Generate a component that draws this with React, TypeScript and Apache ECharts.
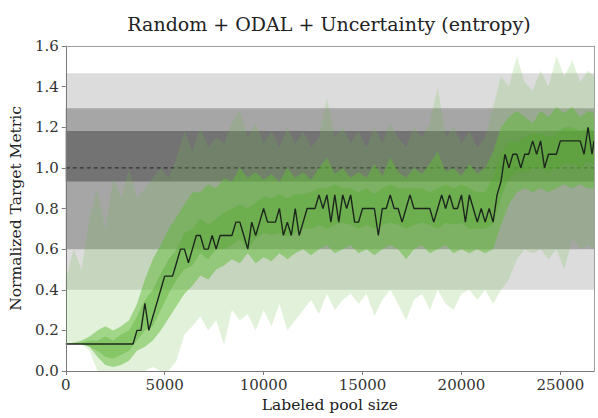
import React, { useEffect, useRef } from "react";
import * as echarts from "echarts";

const chartTitle = "Random + ODAL + Uncertainty (entropy)";
const xAxisName = "Labeled pool size";
const yAxisName = "Normalized Target Metric";

const xMin = 0;
const xMax = 26700;
const xInterval = 5000;
const yMin = 0;
const yMax = 1.6;
const yInterval = 0.2;

// reference (grey) bands: lower / upper
const refBandLow = [0.4, 0.6, 0.933];
const refBandHigh = [1.466, 1.293, 1.181];
const refBandColors = ["#dcdcdc", "#a6a6a6", "#737373"];
const refLineValue = 1.0;

// median curve
const poolSizes = [
  0, 200, 400, 600, 800, 1000, 1200, 1400, 1600, 1800,
  2000, 2200, 2400, 2600, 2800, 3000, 3200, 3400, 3600, 3800,
  4000, 4200, 4400, 4600, 4800, 5000, 5200, 5400, 5600, 5800,
  6000, 6200, 6400, 6600, 6800, 7000, 7200, 7400, 7600, 7800,
  8000, 8200, 8400, 8600, 8800, 9000, 9200, 9400, 9600, 9800,
  10000, 10200, 10400, 10600, 10800, 11000, 11200, 11400, 11600, 11800,
  12000, 12200, 12400, 12600, 12800, 13000, 13200, 13400, 13600, 13800,
  14000, 14200, 14400, 14600, 14800, 15000, 15200, 15400, 15600, 15800,
  16000, 16200, 16400, 16600, 16800, 17000, 17200, 17400, 17600, 17800,
  18000, 18200, 18400, 18600, 18800, 19000, 19200, 19400, 19600, 19800,
  20000, 20200, 20400, 20600, 20800, 21000, 21200, 21400, 21600, 21800,
  22000, 22200, 22400, 22600, 22800, 23000, 23200, 23400, 23600, 23800,
  24000, 24200, 24400, 24600, 24800, 25000, 25200, 25400, 25600, 25800,
  26000, 26200, 26400, 26600, 26700,
];
const medianValues = [
  0.133, 0.133, 0.133, 0.133, 0.133, 0.133, 0.133, 0.133, 0.133, 0.133,
  0.133, 0.133, 0.133, 0.133, 0.133, 0.133, 0.133, 0.133, 0.2, 0.2,
  0.333, 0.2, 0.267, 0.333, 0.4, 0.467, 0.467, 0.467, 0.533, 0.6,
  0.6, 0.533, 0.6, 0.667, 0.667, 0.6, 0.6, 0.667, 0.6, 0.667,
  0.667, 0.667, 0.667, 0.733, 0.733, 0.667, 0.6, 0.733, 0.667, 0.733,
  0.8, 0.733, 0.733, 0.733, 0.8, 0.667, 0.733, 0.667, 0.8, 0.667,
  0.733, 0.8, 0.8, 0.8, 0.867, 0.8, 0.867, 0.733, 0.867, 0.733,
  0.867, 0.8, 0.867, 0.733, 0.733, 0.8, 0.8, 0.8, 0.8, 0.667,
  0.8, 0.8, 0.867, 0.8, 0.8, 0.733, 0.8, 0.867, 0.8, 0.8,
  0.8, 0.8, 0.8, 0.733, 0.8, 0.867, 0.8, 0.867, 0.8, 0.8,
  0.867, 0.733, 0.867, 0.8, 0.733, 0.8, 0.733, 0.8, 0.733, 0.867,
  0.933, 1.067, 1.0, 1.067, 1.067, 1.0, 1.067, 1.067, 1.133, 1.067,
  1.133, 1.0, 1.067, 1.067, 1.067, 1.133, 1.133, 1.133, 1.133, 1.133,
  1.133, 1.067, 1.2, 1.067, 1.133,
];

// spread bands
const bandPoolSizes = [
  0, 400, 800, 1200, 1600, 2000, 2400, 2800, 3200, 3600,
  4000, 4400, 4800, 5200, 5600, 6000, 6400, 6800, 7200, 7600,
  8000, 8400, 8800, 9200, 9600, 10000, 10400, 10800, 11200, 11600,
  12000, 12400, 12800, 13200, 13600, 14000, 14400, 14800, 15200, 15600,
  16000, 16400, 16800, 17200, 17600, 18000, 18400, 18800, 19200, 19600,
  20000, 20400, 20800, 21200, 21600, 22000, 22400, 22800, 23200, 23600,
  24000, 24400, 24800, 25200, 25600, 26000, 26400, 26700,
];
const outerMax = [
  0.45, 0.6, 0.5, 0.75, 0.9, 0.7, 0.95, 0.85, 1.0, 0.85,
  0.9, 0.95, 1.0, 0.95, 1.05, 1.18, 1.08, 1.2, 1.1, 1.15,
  1.12, 1.22, 1.28, 1.15, 1.22, 1.12, 1.18, 1.1, 1.2, 1.12,
  1.18, 1.1, 1.15, 1.34, 1.15, 1.2, 1.12, 1.18, 1.1, 1.2,
  1.12, 1.22, 1.15, 1.1, 1.2, 1.15, 1.22, 1.4, 1.15, 1.2,
  1.12, 1.18, 1.1, 1.15, 1.3, 1.45, 1.4, 1.55, 1.42, 1.38,
  1.48, 1.4, 1.55, 1.45, 1.53, 1.42, 1.48, 1.45,
];
const outerMin = [
  0.133, 0.133, 0.133, 0.1, 0.0, 0.0, 0.0, 0.0, 0.0, 0.0,
  0.0, 0.02, 0.0, 0.0, 0.05, 0.18, 0.22, 0.27, 0.2, 0.25,
  0.13, 0.3, 0.25, 0.28, 0.2, 0.3, 0.22, 0.33, 0.2, 0.25,
  0.3, 0.35, 0.28, 0.38, 0.3, 0.35, 0.38, 0.33, 0.38, 0.27,
  0.35, 0.4, 0.33, 0.25, 0.35, 0.38, 0.3, 0.4, 0.33, 0.3,
  0.38, 0.4, 0.35, 0.4, 0.33, 0.4, 0.45, 0.55, 0.6, 0.58,
  0.6, 0.55, 0.6, 0.5, 0.65, 0.6, 0.62, 0.6,
];
const midLow = [
  0.133, 0.133, 0.133, 0.12, 0.07, 0.03, 0.02, 0.03, 0.05, 0.1,
  0.12, 0.15, 0.2, 0.26, 0.32, 0.38, 0.42, 0.47, 0.45, 0.5,
  0.52, 0.55, 0.53, 0.58, 0.53, 0.56, 0.54, 0.58, 0.55, 0.58,
  0.6, 0.57, 0.6, 0.62, 0.58, 0.6, 0.62, 0.58, 0.6, 0.57,
  0.6, 0.62, 0.6, 0.55, 0.6, 0.62, 0.58, 0.6, 0.62, 0.58,
  0.6, 0.58, 0.6, 0.58, 0.6, 0.72, 0.82, 0.88, 0.9, 0.88,
  0.9, 0.88, 0.9, 0.92, 0.9, 0.92, 0.9, 0.9,
];
const midHigh = [
  0.133, 0.14, 0.15, 0.17, 0.2, 0.22, 0.2, 0.22, 0.25, 0.33,
  0.45, 0.55, 0.62, 0.7, 0.76, 0.82, 0.88, 0.88, 0.92, 0.9,
  0.95, 0.93, 1.0, 0.95, 0.98, 0.94, 0.97, 0.93, 1.0, 0.95,
  0.98, 0.94, 1.0, 1.05, 0.97, 1.0, 0.95, 0.98, 0.95, 1.02,
  0.96, 1.05, 0.98, 0.95, 1.0, 0.97, 1.02, 1.08, 0.98, 1.0,
  0.96, 1.02, 0.97, 1.0, 1.08, 1.2, 1.25, 1.28, 1.25, 1.22,
  1.28, 1.25, 1.3, 1.27, 1.3, 1.25, 1.28, 1.27,
];
const innerLow = [
  0.133, 0.133, 0.133, 0.12, 0.1, 0.07, 0.06, 0.08, 0.1, 0.15,
  0.2, 0.22, 0.3, 0.38, 0.45, 0.5, 0.52, 0.58, 0.55, 0.6,
  0.6, 0.62, 0.65, 0.6, 0.65, 0.68, 0.67, 0.68, 0.66, 0.68,
  0.7, 0.7, 0.72, 0.7, 0.72, 0.73, 0.72, 0.7, 0.72, 0.7,
  0.72, 0.73, 0.72, 0.7, 0.72, 0.73, 0.72, 0.7, 0.73, 0.72,
  0.73, 0.7, 0.7, 0.7, 0.72, 0.85, 0.95, 0.98, 0.98, 1.0,
  1.0, 0.98, 1.0, 1.02, 1.02, 1.0, 1.03, 1.02,
];
const innerHigh = [
  0.133, 0.133, 0.14, 0.15, 0.15, 0.17, 0.15, 0.18, 0.2, 0.27,
  0.35, 0.4, 0.48, 0.55, 0.6, 0.68, 0.7, 0.75, 0.72, 0.75,
  0.78, 0.8, 0.82, 0.8, 0.83, 0.86, 0.85, 0.87, 0.85, 0.87,
  0.87, 0.88, 0.9, 0.9, 0.92, 0.9, 0.9, 0.88, 0.9, 0.87,
  0.9, 0.92, 0.9, 0.9, 0.9, 0.9, 0.88, 0.9, 0.92, 0.9,
  0.92, 0.9, 0.88, 0.88, 0.95, 1.07, 1.13, 1.13, 1.15, 1.17,
  1.17, 1.15, 1.17, 1.2, 1.2, 1.18, 1.2, 1.18,
];

const FONT = "DejaVu Serif";

function bandSeries(upper: number[], lower: number[], color: string, z: number) {
  return {
    type: "custom",
    z,
    silent: true,
    data: [[bandPoolSizes[0], lower[0]]],
    renderItem: (params: any, api: any) => {
      const pts: number[][] = [];
      for (let i = 0; i < bandPoolSizes.length; i++) pts.push(api.coord([bandPoolSizes[i], upper[i]]));
      for (let i = bandPoolSizes.length - 1; i >= 0; i--) pts.push(api.coord([bandPoolSizes[i], lower[i]]));
      return { type: "polygon", shape: { points: pts }, style: { fill: color } };
    },
  };
}

export default function App() {
  const ref = useRef<HTMLDivElement>(null);
  useEffect(() => {
    if (!ref.current) return;
    const chart = echarts.init(ref.current, undefined, { renderer: "svg" });
    const axisColor = "#7a7a7a";
    const option: any = {
      animation: false,
      backgroundColor: "#ffffff",
      title: {
        text: chartTitle,
        left: 329,
        textAlign: "center",
        top: 14,
        padding: 0,
        textStyle: { fontFamily: FONT, fontSize: 19, fontWeight: "normal", color: "#222" },
      },
      grid: { left: 64, right: 4, top: 46, bottom: 39, show: false },
      xAxis: [
        {
          type: "value",
          min: xMin,
          max: xMax,
          interval: xInterval,
          z: 10,
          name: xAxisName,
          nameLocation: "middle",
          nameGap: 26,
          nameTextStyle: { fontFamily: FONT, fontSize: 15.5, color: "#222" },
          axisLine: { show: true, lineStyle: { color: axisColor, width: 1 } },
          axisTick: { show: true, length: 4, lineStyle: { color: axisColor } },
          axisLabel: {
            fontFamily: FONT,
            fontSize: 15,
            color: "#333",
            margin: 6,
            showMaxLabel: false,
            formatter: (v: number) => String(v),
          },
          splitLine: { show: false },
        },
        {
          type: "value",
          position: "top",
          min: xMin,
          max: xMax,
          z: 10,
          axisLine: { show: true, onZero: false, lineStyle: { color: "#a0a0a0", width: 1 } },
          axisTick: { show: false },
          axisLabel: { show: false },
          splitLine: { show: false },
        },
      ],
      yAxis: [
        {
          type: "value",
          min: yMin,
          max: yMax,
          interval: yInterval,
          z: 10,
          name: yAxisName,
          nameLocation: "middle",
          nameGap: 36,
          nameTextStyle: { fontFamily: FONT, fontSize: 15.5, color: "#222" },
          axisLine: { show: true, lineStyle: { color: axisColor, width: 1 } },
          axisTick: { show: true, length: 4, lineStyle: { color: axisColor } },
          axisLabel: {
            fontFamily: FONT,
            fontSize: 15,
            color: "#333",
            margin: 7,
            formatter: (v: number) => v.toFixed(1),
          },
          splitLine: { show: false },
        },
        {
          type: "value",
          position: "right",
          min: yMin,
          max: yMax,
          z: 10,
          axisLine: { show: true, onZero: false, lineStyle: { color: "#a0a0a0", width: 1 } },
          axisTick: { show: false },
          axisLabel: { show: false },
          splitLine: { show: false },
        },
      ],
      series: [
        {
          type: "custom",
          z: 1,
          silent: true,
          data: refBandLow.map((lo) => [xMin, lo]),
          renderItem: (params: any, api: any) => {
            const i = params.dataIndex;
            const p1 = api.coord([xMin, refBandHigh[i]]);
            const p2 = api.coord([xMax, refBandLow[i]]);
            return {
              type: "rect",
              shape: { x: p1[0], y: p1[1], width: p2[0] - p1[0], height: p2[1] - p1[1] },
              style: { fill: refBandColors[i] },
            };
          },
        },
        {
          type: "line",
          z: 2,
          silent: true,
          symbol: "none",
          data: [
            [xMin, refLineValue],
            [xMax, refLineValue],
          ],
          lineStyle: { color: "#333333", width: 1.3, type: [4, 3] },
        },
        bandSeries(outerMax, outerMin, "rgba(110,190,70,0.2)", 3),
        bandSeries(midHigh, midLow, "rgba(95,185,55,0.5)", 4),
        bandSeries(innerHigh, innerLow, "rgba(80,170,40,0.35)", 5),
        {
          type: "line",
          z: 6,
          silent: true,
          symbol: "none",
          data: poolSizes.map((x, i) => [x, medianValues[i]]),
          lineStyle: { color: "#1c261c", width: 1.4 },
        },
      ],
    };
    chart.setOption(option);
    return () => chart.dispose();
  }, []);
  return (
    <div
      ref={ref}
      style={{ position: "fixed", left: 0, top: 0, width: 598, height: 418 }}
    />
  );
}
